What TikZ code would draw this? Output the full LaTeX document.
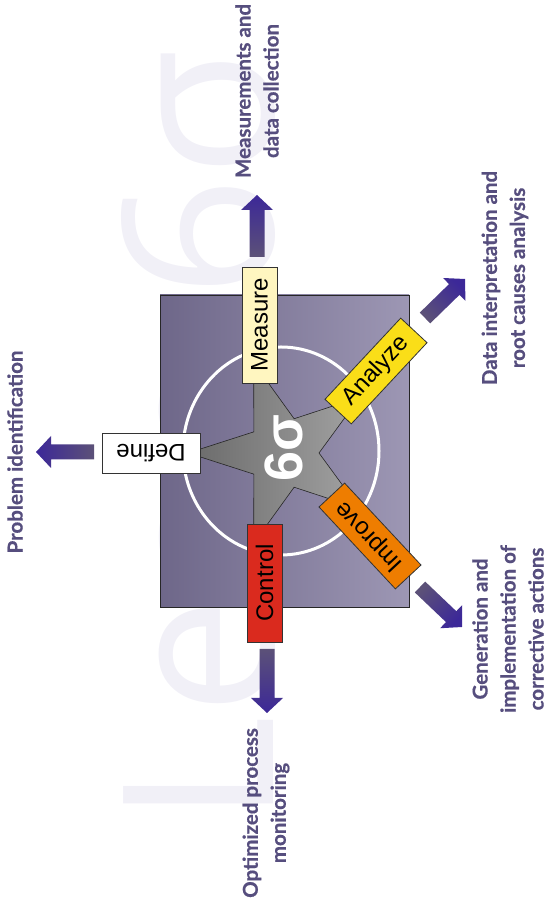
\documentclass[tikz,border=0pt]{standalone}
\usepackage{fontspec}
\setmainfont{Liberation Sans}
\newfontfamily\labelfont{Lato}
\newfontfamily\markfont{Open Sans}
\usepackage{tikz}
\usetikzlibrary{calc,positioning}
\definecolor{labcolor}{RGB}{86,78,126}
\definecolor{arrtail}{RGB}{92,81,120}
\definecolor{arrhead}{RGB}{60,40,152}
\definecolor{panelleft}{RGB}{110,103,137}
\definecolor{panelright}{RGB}{157,151,180}
\definecolor{stardark}{RGB}{106,106,106}
\definecolor{starlight}{RGB}{162,162,162}
\definecolor{markcolor}{RGB}{241,240,247}
\definecolor{measurecol}{RGB}{255,246,192}
\definecolor{analyzecol}{RGB}{250,222,24}
\definecolor{improvecol}{RGB}{238,125,0}
\definecolor{controlcol}{RGB}{218,42,30}

\tikzset{
  stepbox/.style={draw=black!80, line width=0.8pt, inner sep=0pt,
    minimum height=35pt, font=\fontsize{24}{24}\selectfont},
  outtext/.style={text=labcolor, font=\labelfont\bfseries\addfontfeature{FakeBold=0.6}\fontsize{20.5}{28}\selectfont,
    align=center, rotate=90},
  sigtext/.style={text=white, font=\bfseries\fontsize{54}{54}\selectfont, rotate=90},
  markstyle/.style={text=markcolor, font=\markfont\fontsize{210}{210}\selectfont,
    rotate=90, anchor=base west, inner sep=0pt}
}

% block arrow: tail, tip, shading angle
\newcommand{\blockarrow}[3]{%
  \coordinate (hb) at ($(#2)!15pt!(#1)$);
  \shade[top color=arrhead, bottom color=arrtail, shading angle=#3]
    ($(#1)!7.5pt!90:(#2)$) -- ($(hb)!7.5pt!90:(#2)$) -- ($(hb)!16pt!90:(#2)$) -- (#2)
    -- ($(hb)!16pt!-90:(#2)$) -- ($(hb)!7.5pt!-90:(#2)$) -- ($(#1)!7.5pt!-90:(#2)$) -- cycle;
}

\begin{document}
\begin{tikzpicture}[x=1pt,y=1pt]
  \useasboundingbox (0,0) rectangle (547,904);

  % watermark behind everything
  \node[markstyle] (mark) at (273,79) {Lean 6σ};

  % panel, ring and star
  \path[left color=panelleft, right color=panelright, draw=black!85, line width=0.8pt]
    (160,297) rectangle (409,609);
  \draw[white, line width=3pt] (281,453) ellipse [x radius=98, y radius=104];
  \begin{scope}[shift={(283,451)}]
    \path[left color=stardark, right color=starlight, draw=black!85, line width=0.6pt]
      (180:95) -- (144:36) -- (108:95) -- (72:36) -- (36:95) -- (0:36)
      -- (-36:95) -- (-72:36) -- (-108:95) -- (-144:36) -- cycle;
  \end{scope}
  \node[sigtext] (sigma) at (283.5,455.5) {6σ};

  % the five phases
  \node[stepbox, fill=white, minimum width=98pt, minimum height=40pt, rotate=180] (define) at (151,451) {Define};
  \node[stepbox, fill=measurecol, minimum width=116pt, rotate=90] (measure) at (259.5,579) {Measure};
  \node[stepbox, fill=analyzecol, minimum width=111pt, minimum height=36pt, rotate=47] (analyze) at (376,533) {Analyze};
  \node[stepbox, fill=improvecol, minimum width=112pt, rotate=133] (improve) at (370,368) {Improve};
  \node[stepbox, fill=controlcol, minimum width=118pt, rotate=90] (control) at (264.5,321) {Control};

  % outcomes
  \node[outtext] (probid) at (15,452) {Problem identification};
  \node[outtext] (meascol) at (257,813) {Measurements and\\data collection};
  \node[outtext] (rootcause) at (505,626) {Data interpretation and\\root causes analysis};
  \node[outtext] (corrective) at (508,275) {Generation and\\implementation of\\corrective actions};
  \node[outtext] (monitor) at (266,91) {Optimized process\\monitoring};

  % arrows
  \coordinate (defT) at (94,452);   \coordinate (defH) at (36,452);
  \coordinate (meaT) at (257,647);  \coordinate (meaH) at (257,709);
  \coordinate (anaT) at (425,586);  \coordinate (anaH) at (465,625);
  \coordinate (impT) at (420,317);  \coordinate (impH) at (462,277);
  \coordinate (conT) at (267,255);  \coordinate (conH) at (267,191);
  \blockarrow{defT}{defH}{90}
  \blockarrow{meaT}{meaH}{0}
  \blockarrow{anaT}{anaH}{-45}
  \blockarrow{impT}{impH}{-135}
  \blockarrow{conT}{conH}{180}
\end{tikzpicture}
\end{document}
